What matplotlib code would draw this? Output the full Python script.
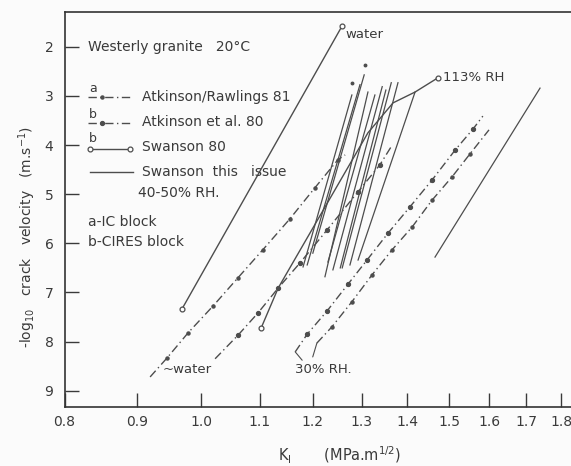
import numpy as np
import matplotlib.pyplot as plt
from matplotlib.lines import Line2D
from matplotlib.ticker import NullLocator

# axis ticks
xticks = [0.8, 0.9, 1.0, 1.1, 1.2, 1.3, 1.4, 1.5, 1.6, 1.7, 1.8]
xtick_labels = ["0.8", "0.9", "1.0", "1.1", "1.2", "1.3", "1.4", "1.5", "1.6", "1.7", "1.8"]
yticks = [2, 3, 4, 5, 6, 7, 8, 9]

# Swanson 80 (open circles at the ends)
sw_water_k = [0.969, 1.259]
sw_water_v = [7.34, 1.57]
sw_113_k = [1.103, 1.134, 1.313, 1.368, 1.418, 1.472]
sw_113_v = [7.72, 6.91, 3.75, 3.14, 2.92, 2.63]

# Atkinson lines in water (first and last values are line ends, the rest are points)
at_a_k = [0.920, 0.946, 0.979, 1.020, 1.062, 1.106, 1.156, 1.204, 1.250, 1.265]
at_a_v = [8.72, 8.33, 7.82, 7.27, 6.70, 6.13, 5.50, 4.87, 4.30, 4.20]
at_b_k = [1.023, 1.062, 1.097, 1.134, 1.175, 1.228, 1.292, 1.339, 1.366]
at_b_v = [8.35, 7.87, 7.42, 6.91, 6.40, 5.73, 4.95, 4.40, 4.00]

# Atkinson lines at 30% RH
rh30_a_k = [1.166, 1.189, 1.228, 1.271, 1.311, 1.357, 1.406, 1.458, 1.514, 1.559, 1.584]
rh30_a_v = [8.21, 7.85, 7.38, 6.83, 6.34, 5.79, 5.26, 4.71, 4.10, 3.67, 3.41]
rh30_b_k = [1.208, 1.238, 1.279, 1.322, 1.366, 1.411, 1.458, 1.506, 1.551, 1.600]
rh30_b_v = [8.03, 7.70, 7.19, 6.64, 6.13, 5.67, 5.12, 4.65, 4.18, 3.69]

# Swanson this issue, 40-50% RH (bottom -> top of each test)
this_k0 = [1.181, 1.189, 1.200, 1.224, 1.230, 1.240, 1.255, 1.259, 1.275, 1.292, 1.465]
this_v0 = [6.48, 6.44, 6.20, 6.68, 6.38, 6.54, 6.50, 6.50, 6.44, 6.34, 6.28]
this_k1 = [1.279, 1.296, 1.305, 1.313, 1.328, 1.344, 1.352, 1.364, 1.379, 1.418, 1.739]
this_v1 = [2.98, 2.77, 2.57, 2.92, 2.98, 2.81, 2.88, 2.73, 2.73, 2.92, 2.84]
this_pts_k = [1.279, 1.307]
this_pts_v = [2.73, 2.37]

ink = "#4d4d4d"
txt = "#3a3a3a"
plt.rcParams["font.family"] = ["DejaVu Sans"]

W, H = 571, 466
fig = plt.figure(figsize=(W / 100, H / 100), dpi=100, facecolor="#fbfbfb")
ax = fig.add_axes([0.113, 0.1266, 0.9277, 0.848], facecolor="#fbfbfb")
ax.set_xscale("log")

dash = (6, 2.5, 1, 2.5)

# Swanson 80
ax.plot(sw_water_k, sw_water_v, color=ink, lw=1.0, marker="o", ms=3.5, mfc="white", mec=ink, mew=0.9)
ax.plot(sw_113_k, sw_113_v, color=ink, lw=1.0, marker="o", ms=3.5, mfc="white", mec=ink, mew=0.9,
        markevery=[0, len(sw_113_k) - 1])

# Atkinson
for ks, vs, ms in [(at_a_k, at_a_v, 2.2), (at_b_k, at_b_v, 2.8),
                   (rh30_a_k, rh30_a_v, 2.8), (rh30_b_k, rh30_b_v, 2.2)]:
    ax.plot(ks, vs, color=ink, lw=1.0, dashes=dash, marker="o", ms=ms, mec=ink, mfc=ink,
            markevery=slice(1, len(ks) - 1))

# Swanson this issue
for k0, v0, k1, v1 in zip(this_k0, this_v0, this_k1, this_v1):
    ax.plot([k0, k1], [v0, v1], color=ink, lw=0.9)
ax.plot(this_pts_k, this_pts_v, ls="none", marker="o", ms=1.8, color=ink)

# labels on curves
ax.annotate("water", xy=(sw_water_k[-1], sw_water_v[-1]), xytext=(2, -6.5), textcoords="offset points",
            ha="left", va="center", fontsize=9.5, color=txt)
ax.annotate("113% RH", xy=(sw_113_k[-1], sw_113_v[-1]), xytext=(3.5, 0), textcoords="offset points",
            ha="left", va="center", fontsize=9.5, color=txt)
ax.annotate("~water", xy=(at_a_k[0], at_a_v[0]), xytext=(9, 5), textcoords="offset points",
            ha="left", va="center", fontsize=9.5, color=txt)
ax.annotate("", xy=(rh30_a_k[0], rh30_a_v[0]), xytext=(5, -6), textcoords="offset points",
            arrowprops=dict(arrowstyle="-", color=ink, lw=0.8, shrinkA=0, shrinkB=0))
ax.annotate("", xy=(rh30_b_k[0], rh30_b_v[0]), xytext=(-3, -10), textcoords="offset points",
            arrowprops=dict(arrowstyle="-", color=ink, lw=0.8, shrinkA=0, shrinkB=0))
ax.annotate("30% RH.", xy=(rh30_a_k[0], rh30_a_v[0]), xytext=(0, -12.5), textcoords="offset points",
            ha="left", va="center", fontsize=9.5, color=txt)

# axes
ax.set_xlim(0.8, 1.9)
ax.set_ylim(9.332, 1.287)
ax.set_xticks(xticks, labels=xtick_labels)
ax.xaxis.set_minor_locator(NullLocator())
ax.set_yticks(yticks)
ax.tick_params(direction="in", length=10, width=1.0, labelsize=10, colors=txt, pad=6)
ax.tick_params(axis="y", pad=8)
for s in ["left", "bottom", "top"]:
    ax.spines[s].set_linewidth(1.2)
    ax.spines[s].set_color("#333333")
ax.spines["right"].set_visible(False)

fig.text(27 / W, 1 - 237 / H, "-log$_{10}$   crack   velocity   (m.s$^{-1}$)", rotation=90,
         ha="center", va="center", fontsize=10, color=txt)
fig.text(340 / W, 1 - 455 / H, "K$_\\mathregular{I}$       (MPa.m$^{1/2}$)", ha="center", va="center",
         fontsize=10.5, color=txt)


# legend block (figure pixels)
def fp(x, y):
    return x / W, 1 - y / H


def ftext(x, y, s, size=10):
    fig.text(*fp(x, y), s, ha="left", va="center", color=txt, fontsize=size)


def fline(xs, ys, **kw):
    pts = [fp(x, y) for x, y in zip(xs, ys)]
    fig.add_artist(Line2D([p[0] for p in pts], [p[1] for p in pts], transform=fig.transFigure,
                          color=ink, lw=1.0, **kw))


def fdot(x, y, ms):
    fig.add_artist(Line2D([fp(x, y)[0]], [fp(x, y)[1]], transform=fig.transFigure,
                          ls="none", marker="o", ms=ms, color=ink))


ftext(88, 47, "Westerly granite   20°C")
ftext(89, 88, "a", 9)
fline([88, 133], [97, 97], dashes=dash)
fdot(102, 97, 2.2)
ftext(142, 97, "Atkinson/Rawlings 81")
ftext(89, 114, "b", 9)
fline([88, 133], [123, 123], dashes=dash)
fdot(102, 123, 2.8)
ftext(142, 122, "Atkinson et al. 80")
ftext(89, 138, "b", 9)
fline([90, 130], [149, 149], marker="o", ms=3.5, mfc="white", mec=ink, mew=0.9)
ftext(142, 147, "Swanson 80")
fline([90, 133], [172, 172])
ftext(142, 172, "Swanson  this   issue")
ftext(138, 193, "40-50% RH.")
ftext(88, 222, "a-IC block")
ftext(88, 242, "b-CIRES block")

fig.savefig("out.png", dpi=100, facecolor=fig.get_facecolor())
